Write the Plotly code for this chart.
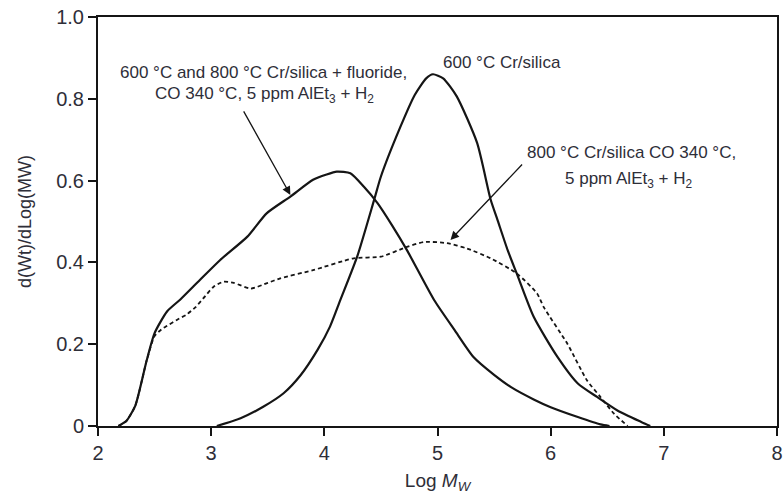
import plotly.graph_objects as go

# Curve: 600 °C and 800 °C Cr/silica + fluoride, CO 340 °C, 5 ppm AlEt3 + H2 (solid)
fluoride_x = [2.18, 2.25, 2.33, 2.43, 2.50, 2.61, 2.73, 2.90, 3.08, 3.32, 3.49, 3.70, 3.90, 4.02,
              4.11, 4.23, 4.35, 4.47, 4.60, 4.73, 4.97, 5.15, 5.32, 5.50, 5.65, 5.85, 6.00, 6.24,
              6.44, 6.52]
fluoride_y = [0, 0.012, 0.05, 0.16, 0.227, 0.28, 0.31, 0.357, 0.406, 0.463, 0.52, 0.561, 0.602, 0.615,
              0.622, 0.618, 0.585, 0.545, 0.49, 0.43, 0.308, 0.235, 0.168, 0.125, 0.095, 0.065, 0.046,
              0.022, 0.004, 0]

# Curve: 600 °C Cr/silica (solid)
cr600_x = [3.05, 3.26, 3.46, 3.64, 3.79, 3.94, 4.05, 4.14, 4.29, 4.44, 4.50, 4.67, 4.80, 4.90, 4.96,
           5.05, 5.17, 5.35, 5.47, 5.53, 5.62, 5.70, 5.85, 6.06, 6.24, 6.41, 6.59, 6.80, 6.88]
cr600_y = [0, 0.019, 0.047, 0.08, 0.124, 0.186, 0.243, 0.307, 0.414, 0.553, 0.61, 0.73, 0.81, 0.85, 0.86,
           0.85, 0.806, 0.692, 0.553, 0.504, 0.43, 0.373, 0.267, 0.169, 0.104, 0.071, 0.038, 0.01, 0]

# Curve: 800 °C Cr/silica CO 340 °C, 5 ppm AlEt3 + H2 (dashed)
cr800_x = [2.18, 2.25, 2.33, 2.43, 2.50, 2.56, 2.61, 2.70, 2.78, 2.86, 2.93, 3.02, 3.11, 3.20, 3.35,
           3.50, 3.61, 3.90, 4.26, 4.50, 4.73, 4.88, 5.085, 5.26, 5.47, 5.70, 5.88, 5.94, 6.15, 6.32,
           6.44, 6.56, 6.68]
cr800_y = [0, 0.012, 0.05, 0.16, 0.22, 0.236, 0.245, 0.26, 0.272, 0.29, 0.312, 0.34, 0.353, 0.35, 0.336,
           0.35, 0.361, 0.381, 0.41, 0.414, 0.438, 0.45, 0.447, 0.434, 0.41, 0.373, 0.324, 0.29, 0.2,
           0.112, 0.071, 0.03, 0]

x_ticks = [2, 3, 4, 5, 6, 7, 8]
y_ticks = [0, 0.2, 0.4, 0.6, 0.8, 1.0]
y_tick_labels = ["0", "0.2", "0.4", "0.6", "0.8", "1.0"]

FONT = "Liberation Sans, Arial, sans-serif"
TXT = "#2e2e38"
INK = "#151515"

fig = go.Figure()
fig.add_trace(go.Scatter(x=fluoride_x, y=fluoride_y, mode="lines",
                         line=dict(color=INK, width=2.2, shape="spline", smoothing=0.6)))
fig.add_trace(go.Scatter(x=cr600_x, y=cr600_y, mode="lines",
                         line=dict(color=INK, width=2.2, shape="spline", smoothing=0.6)))
fig.add_trace(go.Scatter(x=cr800_x, y=cr800_y, mode="lines",
                         line=dict(color=INK, width=1.8, dash="4px,3px", shape="spline", smoothing=0.6)))

ann_font = dict(family=FONT, size=17, color=TXT)
annotations = [
    # text labels
    dict(x=3.46, y=0.864, text="600 °C and 800 °C Cr/silica + fluoride,", showarrow=False,
         xanchor="center", yanchor="middle", font=ann_font),
    dict(x=3.47, y=0.81, text="CO 340 °C, 5 ppm AlEt<sub>3</sub> + H<sub>2</sub>", showarrow=False,
         xanchor="center", yanchor="middle", font=ann_font),
    dict(x=5.03, y=0.888, text="600 °C Cr/silica", showarrow=False,
         xanchor="left", yanchor="middle", font=ann_font),
    dict(x=6.71, y=0.668, text="800 °C Cr/silica CO 340 °C,", showarrow=False,
         xanchor="center", yanchor="middle", font=ann_font),
    dict(x=6.69, y=0.601, text="5 ppm AlEt<sub>3</sub> + H<sub>2</sub>", showarrow=False,
         xanchor="center", yanchor="middle", font=ann_font),
    # arrows
    dict(x=3.70, y=0.565, ax=3.28, ay=0.773, axref="x", ayref="y", xref="x", yref="y",
         text="", showarrow=True, arrowhead=2, arrowsize=1.3, arrowwidth=1.3, arrowcolor=INK),
    dict(x=5.115, y=0.455, ax=5.76, ay=0.643, axref="x", ayref="y", xref="x", yref="y",
         text="", showarrow=True, arrowhead=2, arrowsize=1.3, arrowwidth=1.3, arrowcolor=INK),
]

fig.update_layout(
    width=784, height=500,
    margin=dict(l=98, r=7, t=17, b=74, autoexpand=False),
    paper_bgcolor="white", plot_bgcolor="white",
    showlegend=False,
    font=dict(family=FONT, color=TXT),
    annotations=annotations,
)
fig.update_xaxes(range=[2, 8], tickvals=x_ticks, ticks="outside", ticklen=8, tickwidth=2,
                 tickcolor=INK, showline=True, linecolor=INK, linewidth=2, mirror=True,
                 showgrid=False, zeroline=False, automargin=False, ticklabeloverflow="allow",
                 tickfont=dict(size=20, family=FONT, color=TXT),
                 title=dict(text="Log <i>M</i><sub><i>W</i></sub>", font=dict(size=19, family=FONT, color=TXT),
                            standoff=11))
fig.update_yaxes(range=[0, 1], tickvals=y_ticks, ticktext=y_tick_labels, ticks="outside", ticklen=8,
                 tickwidth=2, tickcolor=INK, showline=True, linecolor=INK, linewidth=2,
                 mirror=True, showgrid=False, zeroline=False, automargin=False, ticklabeloverflow="allow",
                 tickfont=dict(size=20, family=FONT, color=TXT),
                 title=dict(text="d(Wt)/dLog(MW)", font=dict(size=18, family=FONT, color=TXT), standoff=20))

# remove the default page margin so the 784x500 figure fills the window exactly
fig.write_html("out.html", config={"displayModeBar": False},
               post_script="document.body.style.margin='0';document.body.style.overflow='hidden';")
